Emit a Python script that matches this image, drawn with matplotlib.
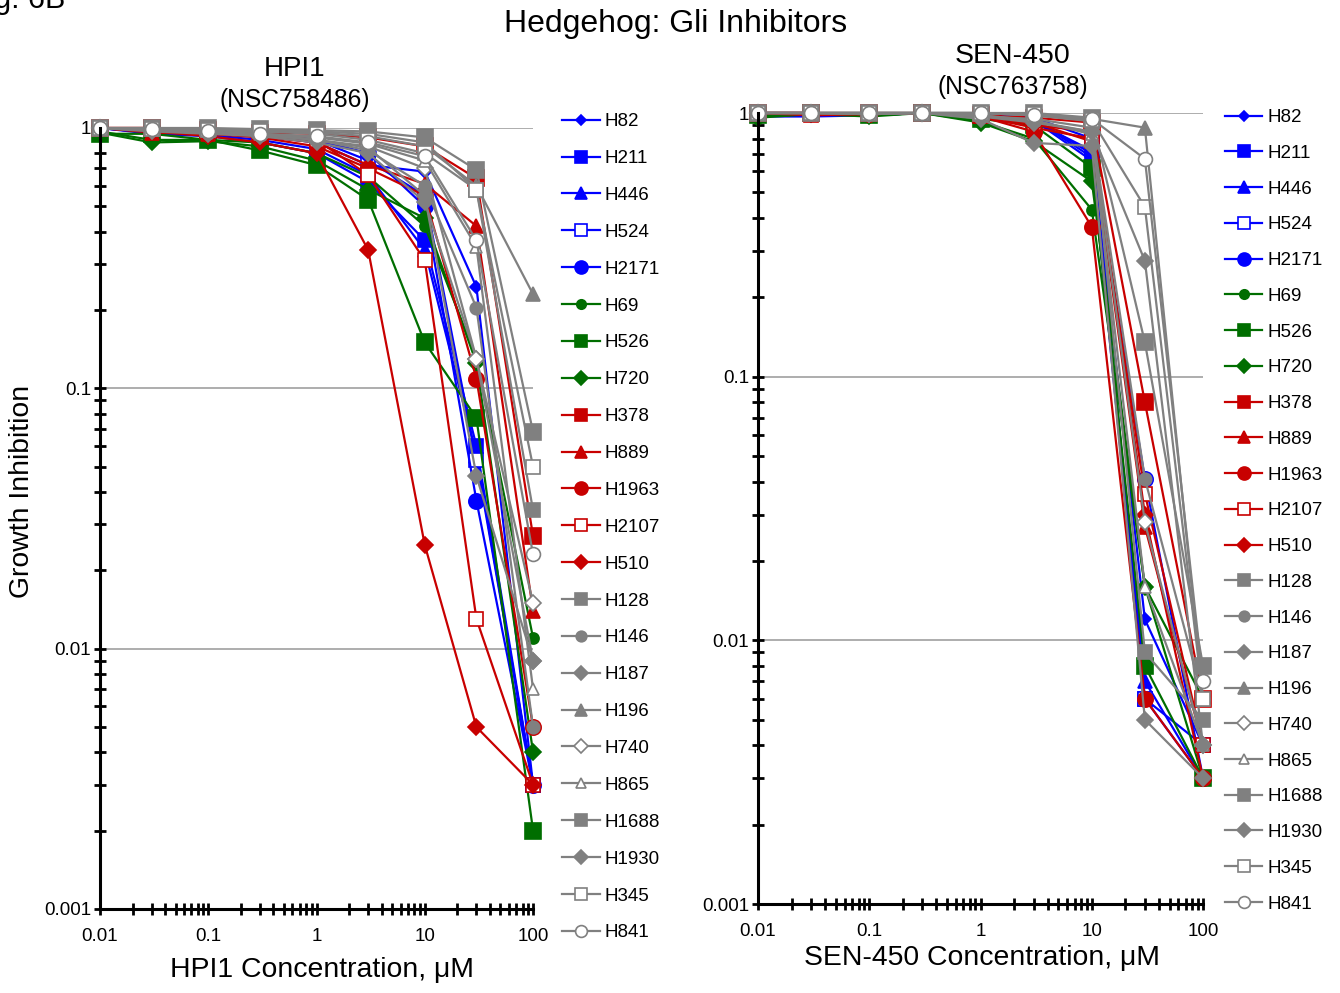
import matplotlib
matplotlib.use("Agg")
import matplotlib.pyplot as plt
from matplotlib.ticker import LogLocator, FixedLocator, FixedFormatter, NullFormatter

# concentrations (uM)
conc = [0.01, 0.03, 0.1, 0.3, 1, 3, 10, 30, 100]

cell_lines = ["H82", "H211", "H446", "H524", "H2171", "H69", "H526", "H720",
              "H378", "H889", "H1963", "H2107", "H510", "H128", "H146", "H187",
              "H196", "H740", "H865", "H1688", "H1930", "H345", "H841"]

# HPI1 growth inhibition, one list per cell line
hpi1_H82 = [1.0, 0.97, 0.96, 0.93, 0.88, 0.72, 0.68, 0.245, 0.003]
hpi1_H211 = [1.0, 0.95, 0.93, 0.88, 0.80, 0.62, 0.37, 0.060, 0.003]
hpi1_H446 = [1.0, 0.96, 0.94, 0.90, 0.83, 0.66, 0.34, 0.055, 0.003]
hpi1_H524 = [1.0, 0.98, 0.97, 0.97, 0.90, 0.75, 0.55, 0.053, 0.003]
hpi1_H2171 = [1.0, 0.96, 0.95, 0.93, 0.90, 0.80, 0.50, 0.037, 0.003]
hpi1_H69 = [0.97, 0.90, 0.90, 0.88, 0.80, 0.65, 0.42, 0.13, 0.011]
hpi1_H526 = [0.95, 0.95, 0.90, 0.82, 0.72, 0.53, 0.15, 0.077, 0.002]
hpi1_H720 = [0.96, 0.88, 0.89, 0.85, 0.75, 0.58, 0.45, 0.125, 0.004]
hpi1_H378 = [1.0, 1.0, 0.98, 0.96, 0.95, 0.92, 0.85, 0.64, 0.027]
hpi1_H889 = [1.0, 0.96, 0.95, 0.93, 0.88, 0.72, 0.61, 0.42, 0.014]
hpi1_H1963 = [1.0, 0.97, 0.95, 0.92, 0.85, 0.70, 0.55, 0.109, 0.005]
hpi1_H2107 = [1.0, 1.0, 0.98, 0.95, 0.90, 0.66, 0.31, 0.013, 0.003]
hpi1_H510 = [1.0, 0.97, 0.93, 0.88, 0.80, 0.34, 0.025, 0.005, 0.003]
hpi1_H128 = [1.0, 1.0, 1.0, 0.99, 0.98, 0.97, 0.92, 0.69, 0.068]
hpi1_H146 = [1.0, 0.98, 0.96, 0.94, 0.90, 0.82, 0.60, 0.204, 0.005]
hpi1_H187 = [1.0, 0.97, 0.95, 0.93, 0.88, 0.80, 0.52, 0.13, 0.009]
hpi1_H196 = [1.0, 0.99, 0.98, 0.97, 0.96, 0.93, 0.85, 0.60, 0.23]
hpi1_H740 = [1.0, 0.98, 0.97, 0.95, 0.90, 0.85, 0.70, 0.13, 0.015]
hpi1_H865 = [1.0, 0.98, 0.97, 0.95, 0.92, 0.87, 0.75, 0.35, 0.007]
hpi1_H1688 = [1.0, 1.0, 0.99, 0.98, 0.97, 0.95, 0.88, 0.58, 0.034]
hpi1_H1930 = [1.0, 0.98, 0.96, 0.94, 0.90, 0.84, 0.55, 0.046, 0.009]
hpi1_H345 = [1.0, 0.99, 0.98, 0.97, 0.95, 0.90, 0.80, 0.58, 0.050]
hpi1_H841 = [1.0, 0.99, 0.97, 0.95, 0.93, 0.88, 0.78, 0.37, 0.023]

# SEN-450 growth inhibition
sen_H82 = [0.97, 0.97, 0.98, 1.0, 0.97, 0.93, 0.72, 0.012, 0.004]
sen_H211 = [0.98, 0.99, 0.99, 1.0, 0.98, 0.95, 0.68, 0.006, 0.003]
sen_H446 = [0.98, 0.99, 0.98, 1.0, 0.97, 0.94, 0.66, 0.007, 0.003]
sen_H524 = [0.99, 0.99, 0.99, 1.0, 0.99, 0.96, 0.80, 0.006, 0.004]
sen_H2171 = [0.99, 1.0, 0.99, 1.0, 0.98, 0.95, 0.70, 0.041, 0.003]
sen_H69 = [0.97, 0.99, 0.98, 1.0, 0.93, 0.80, 0.43, 0.016, 0.006]
sen_H526 = [0.98, 1.0, 0.98, 1.0, 0.95, 0.90, 0.62, 0.008, 0.003]
sen_H720 = [0.96, 0.99, 0.97, 1.0, 0.92, 0.78, 0.55, 0.016, 0.003]
sen_H378 = [1.0, 1.0, 1.0, 1.0, 0.98, 0.96, 0.92, 0.080, 0.006]
sen_H889 = [1.0, 1.0, 0.99, 1.0, 0.97, 0.88, 0.80, 0.027, 0.004]
sen_H1963 = [1.0, 1.0, 0.99, 1.0, 0.97, 0.85, 0.37, 0.006, 0.003]
sen_H2107 = [1.0, 0.98, 0.99, 1.0, 0.98, 0.92, 0.78, 0.036, 0.004]
sen_H510 = [1.0, 1.0, 0.99, 1.0, 0.98, 0.90, 0.85, 0.030, 0.003]
sen_H128 = [1.0, 1.0, 1.0, 1.0, 1.0, 1.0, 0.96, 0.135, 0.008]
sen_H146 = [1.0, 1.0, 1.0, 1.0, 0.97, 0.95, 0.88, 0.041, 0.006]
sen_H187 = [1.0, 1.0, 0.99, 1.0, 0.95, 0.77, 0.75, 0.005, 0.003]
sen_H196 = [1.0, 1.0, 1.0, 1.0, 1.0, 0.98, 0.95, 0.88, 0.006]
sen_H740 = [1.0, 1.0, 0.99, 1.0, 0.98, 0.93, 0.85, 0.028, 0.004]
sen_H865 = [1.0, 1.0, 1.0, 1.0, 0.98, 0.94, 0.83, 0.016, 0.004]
sen_H1688 = [1.0, 1.0, 1.0, 1.0, 1.0, 0.98, 0.93, 0.009, 0.005]
sen_H1930 = [1.0, 1.0, 0.99, 1.0, 0.97, 0.92, 0.85, 0.275, 0.004]
sen_H345 = [1.0, 1.0, 1.0, 1.0, 1.0, 0.99, 0.94, 0.44, 0.006]
sen_H841 = [1.0, 1.0, 1.0, 1.0, 1.0, 0.98, 0.95, 0.67, 0.007]

hpi1_data = [hpi1_H82, hpi1_H211, hpi1_H446, hpi1_H524, hpi1_H2171, hpi1_H69,
             hpi1_H526, hpi1_H720, hpi1_H378, hpi1_H889, hpi1_H1963, hpi1_H2107,
             hpi1_H510, hpi1_H128, hpi1_H146, hpi1_H187, hpi1_H196, hpi1_H740,
             hpi1_H865, hpi1_H1688, hpi1_H1930, hpi1_H345, hpi1_H841]
sen_data = [sen_H82, sen_H211, sen_H446, sen_H524, sen_H2171, sen_H69,
            sen_H526, sen_H720, sen_H378, sen_H889, sen_H1963, sen_H2107,
            sen_H510, sen_H128, sen_H146, sen_H187, sen_H196, sen_H740,
            sen_H865, sen_H1688, sen_H1930, sen_H345, sen_H841]

BLUE = "#0000FF"
GREEN = "#006E00"
RED = "#C80000"
GRAY = "#808080"

# (color, marker, filled, size)
styles = [
    (BLUE, "D", True, 6), (BLUE, "s", True, 10), (BLUE, "^", True, 10),
    (BLUE, "s", False, 10), (BLUE, "o", True, 11), (GREEN, "o", True, 8),
    (GREEN, "s", True, 11), (GREEN, "D", True, 8), (RED, "s", True, 11),
    (RED, "^", True, 10), (RED, "o", True, 11), (RED, "s", False, 10),
    (RED, "D", True, 8), (GRAY, "s", True, 11), (GRAY, "o", True, 9),
    (GRAY, "D", True, 8), (GRAY, "^", True, 10), (GRAY, "D", False, 8),
    (GRAY, "^", False, 9), (GRAY, "s", True, 10), (GRAY, "D", True, 8),
    (GRAY, "s", False, 10), (GRAY, "o", False, 10),
]

plt.rcParams['font.family'] = ['Liberation Sans', 'DejaVu Sans']

fig = plt.figure(figsize=(13.4, 9.93), dpi=100)
ax1 = fig.add_axes([0.0746, 0.0846, 0.3232, 0.7865])
ax2 = fig.add_axes([0.5657, 0.0896, 0.3321, 0.7966])


def draw_panel(ax, data, leg_anchor, spacing):
    for name, vals, (col, mk, filled, ms) in zip(cell_lines, data, styles):
        ax.plot(conc, vals, color=col, lw=1.6, marker=mk, ms=ms,
                mfc=col if filled else "white", mec=col, mew=1.2,
                label=name, clip_on=False)
    ax.set_xscale("log")
    ax.set_yscale("log")
    ax.set_xlim(0.01, 100)
    ax.set_ylim(0.001, 1)
    for s in ["top", "right"]:
        ax.spines[s].set_visible(False)
    for s in ["left", "bottom"]:
        ax.spines[s].set_linewidth(2.2)
    ax.xaxis.set_major_locator(FixedLocator([0.01, 0.1, 1, 10, 100]))
    ax.xaxis.set_major_formatter(FixedFormatter(["0.01", "0.1", "1", "10", "100"]))
    ax.yaxis.set_major_locator(FixedLocator([0.001, 0.01, 0.1, 1]))
    ax.yaxis.set_major_formatter(FixedFormatter(["0.001", "0.01", "0.1", "1"]))
    ax.xaxis.set_minor_locator(LogLocator(base=10, subs=range(2, 10), numticks=20))
    ax.yaxis.set_minor_locator(LogLocator(base=10, subs=range(2, 10), numticks=20))
    ax.xaxis.set_minor_formatter(NullFormatter())
    ax.yaxis.set_minor_formatter(NullFormatter())
    ax.tick_params(which="both", direction="inout", length=9, width=2, labelsize=13.5)
    ax.tick_params(axis="x", pad=9)
    ax.tick_params(axis="y", pad=2)
    ax.yaxis.grid(True, which="major", color="#A0A0A0", lw=1.2)
    ax.set_axisbelow(True)
    ax.legend(loc="upper left", bbox_to_anchor=leg_anchor, frameon=False,
              borderpad=0, borderaxespad=0, handlelength=2.0, handletextpad=0.27,
              labelspacing=spacing, fontsize=13.5, markerscale=0.85)


draw_panel(ax1, hpi1_data, (1.067, 1.019), 1.053)
draw_panel(ax2, sen_data, (1.049, 1.005), 0.993)

fig.text(0.240, 0.023, "HPI1 Concentration, μM", ha="center", va="center", fontsize=20.4)
fig.text(0.733, 0.035, "SEN-450 Concentration, μM", ha="center", va="center", fontsize=20.4)
fig.text(0.0164, 0.5055, "Growth Inhibition", ha="center", va="center",
         rotation=90, fontsize=20.4)

fig.text(0.504, 0.976, "Hedgehog: Gli Inhibitors", ha="center", va="center", fontsize=23)
fig.text(0.049, 1.0, "Fig. 6B", ha="right", va="center", fontsize=22)
fig.text(0.220, 0.931, "HPI1", ha="center", va="center", fontsize=20)
fig.text(0.220, 0.899, "(NSC758486)", ha="center", va="center", fontsize=17.7)
fig.text(0.756, 0.944, "SEN-450", ha="center", va="center", fontsize=20.5)
fig.text(0.756, 0.912, "(NSC763758)", ha="center", va="center", fontsize=17.7)

fig.savefig("out.png", dpi=100)
